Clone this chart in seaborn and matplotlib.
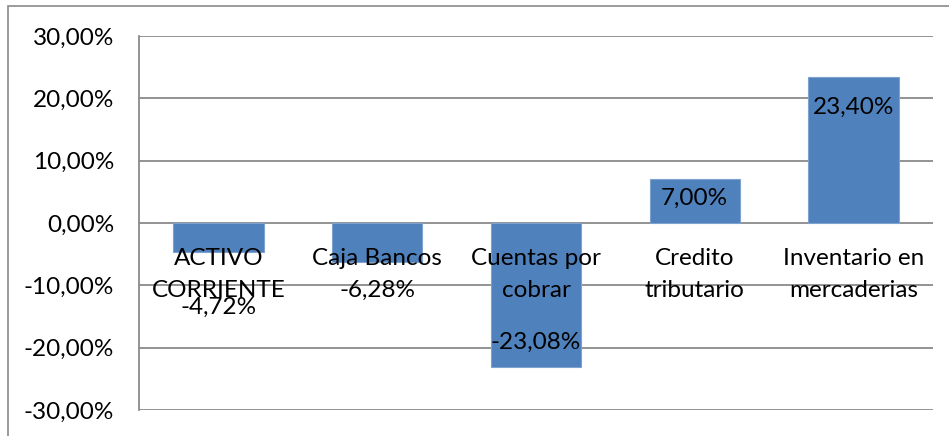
import matplotlib
matplotlib.use("Agg")
import matplotlib.pyplot as plt
import seaborn as sns
import pandas as pd
from matplotlib.patches import Rectangle

categories = ["ACTIVO\nCORRIENTE", "Caja Bancos", "Cuentas por\ncobrar", "Credito\ntributario", "Inventario en\nmercaderias"]
values = [-4.72, -6.28, -23.08, 7.00, 23.40]
y_ticks = [-30, -20, -10, 0, 10, 20, 30]

# vertical shift (pixels) of each value label from the end of its bar
label_shift_px = [-55, -28, 25, -19, -30]

BAR = "#4F81BD"
GRID = "#8A8A8A"
FONT = ["Lato", "DejaVu Sans"]
FS = 17.5

sns.set_theme(style="white")
plt.rcParams["font.family"] = FONT

fig = plt.figure(figsize=(9.49, 4.36), dpi=100)
W, H = 949, 436
ax = fig.add_axes([139 / W, 1 - 410 / H, (933 - 139) / W, (410 - 36) / H])

df = pd.DataFrame({"cat": categories, "val": values})
sns.barplot(data=df, x="cat", y="val", color=BAR, saturation=1, width=0.57,
            edgecolor="#7EA2D0", linewidth=0.8, ax=ax, zorder=3)

ax.set_ylim(-30, 30)
ax.set_xlim(-0.5, len(categories) - 0.5)
ax.set_yticks(y_ticks)
ax.set_yticklabels([f"{t:.2f}".replace(".", ",") + "%" for t in y_ticks])
ax.set_xticks([])
ax.set_xlabel("")
ax.set_ylabel("")
ax.tick_params(axis="y", length=0, pad=18, labelsize=FS, labelcolor="black")

for t in y_ticks:
    ax.axhline(t, color=GRID, lw=1.3, zorder=1)

for side in ["top", "right", "bottom"]:
    ax.spines[side].set_visible(False)
ax.spines["left"].set_color(GRID)
ax.spines["left"].set_linewidth(1.3)

# category names just under the zero line
for i, name in enumerate(categories):
    for k, line in enumerate(name.split("\n")):
        ax.annotate(line, xy=(i, 0), xytext=(0, -35 - 32 * k), textcoords="offset pixels",
                    ha="center", va="center", fontsize=FS, color="black", zorder=5)

# value labels
for i, (v, dy) in enumerate(zip(values, label_shift_px)):
    ax.annotate(f"{v:.2f}".replace(".", ",") + "%", xy=(i, v), xytext=(0, dy),
                textcoords="offset pixels", ha="center", va="center",
                fontsize=FS, color="black", zorder=5)

# chart area frame
fig.patches.append(Rectangle((8 / W, -0.2), 1.2, 1.2 - 6 / H, transform=fig.transFigure,
                             fill=False, edgecolor=GRID, lw=1.2))

fig.savefig("out.png", dpi=100)
